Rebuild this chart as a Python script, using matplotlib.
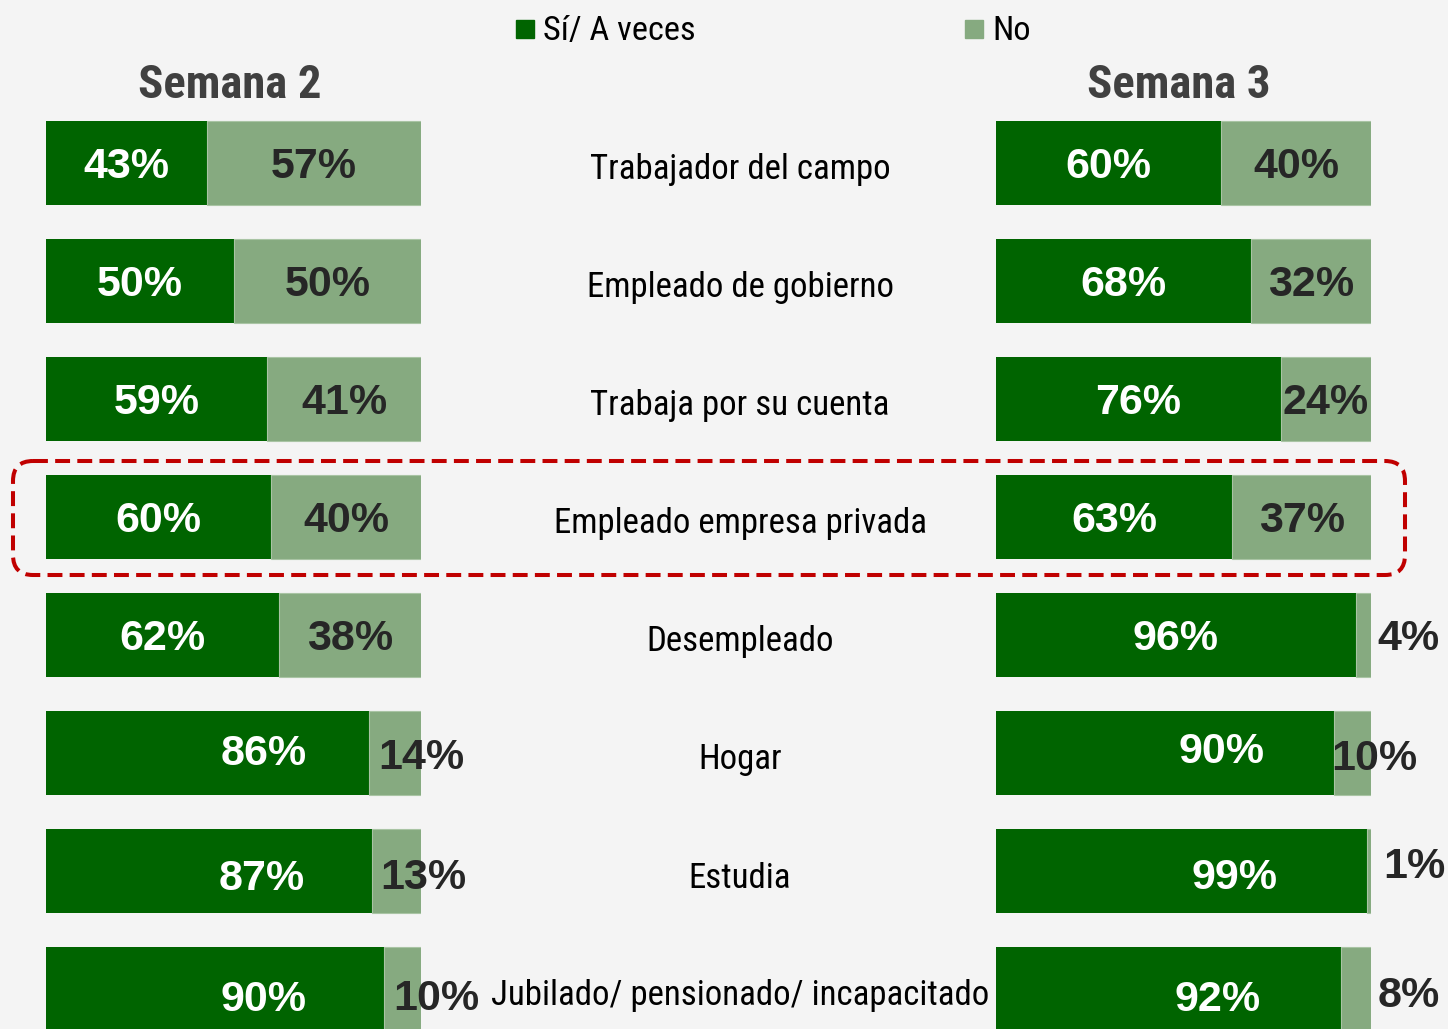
import matplotlib
matplotlib.use("Agg")
import matplotlib.pyplot as plt
from matplotlib import font_manager as fm
from matplotlib.patches import FancyBboxPatch, Rectangle

# ---------------- data ----------------
categories = ["Trabajador del campo", "Empleado de gobierno", "Trabaja por su cuenta",
              "Empleado empresa privada", "Desempleado", "Hogar", "Estudia",
              "Jubilado/ pensionado/ incapacitado"]
semana2_si = [43, 50, 59, 60, 62, 86, 87, 90]
semana2_no = [57, 50, 41, 40, 38, 14, 13, 10]
semana3_si = [60, 68, 76, 63, 96, 90, 99, 92]
semana3_no = [40, 32, 24, 37, 4, 10, 1, 8]
series_names = ["Sí/ A veces", "No"]
panel_titles = ["Semana 2", "Semana 3"]
highlight_index = 3

# label nudges (style: dx in % units, dy in px) for labels moved by hand in the original
s2_si_nudge = {5: (15, -3), 6: (14, 4), 7: (13, 7)}
s2_no_nudge = {5: (7, 1), 6: (7, 3), 7: (9, 6)}
s3_si_nudge = {5: (15, -5), 6: (14, 3), 7: (13, 7)}
s3_no_nudge = {4: (12, 0), 5: (6, 2), 6: (12, -8), 7: (14, 3)}

# ---------------- style ----------------
names = {f.name for f in fm.fontManager.ttflist}
NARROW = next((n for n in ["Liberation Sans Narrow", "Arial Narrow", "Roboto Condensed",
                           "Archivo Narrow", "PT Sans Narrow", "IBM Plex Sans Condensed"]
               if n in names), "DejaVu Sans")
BOLD = "Liberation Sans"
DARK = "#006400"
LIGHT = "#86AA80"
BG = "#F4F4F4"
W, H = 1448, 1029
ROW0, STEP, BAR_H = 163, 118, 84

fig = plt.figure(figsize=(W / 100, H / 100), dpi=100, facecolor=BG)
renderer = fig.canvas.get_renderer()

def fit_size(text, size, target_w, **kw):
    t = fig.text(0, 0, text, fontsize=size, **kw)
    w = t.get_window_extent(renderer).width
    t.remove()
    return size * target_w / w

def make_ax(x0, x1):
    ax = fig.add_axes([x0 / W, 0, (x1 - x0) / W, 1])
    ax.set_xlim(0, 100)
    ax.set_ylim((H - ROW0) / STEP, -ROW0 / STEP)
    ax.axis("off")
    ax.patch.set_visible(False)
    return ax

axL = make_ax(46, 421)
axR = make_ax(996, 1371)
rows = list(range(len(categories)))
px = 1.0 / STEP  # one pixel in row units

def draw_panel(ax, si, no, si_nudge, no_nudge):
    ax.barh(rows, si, height=BAR_H / STEP, color=DARK, edgecolor="none")
    ax.barh(rows, no, left=si, height=BAR_H / STEP, color=LIGHT,
            edgecolor="#A9C4A4", linewidth=0.8)
    for i in rows:
        dx, dy = si_nudge.get(i, (0, 0))
        ax.text(si[i] / 2 + dx, i + (4 + dy) * px, f"{si[i]}%", ha="center", va="center",
                color="white", fontsize=31, fontweight="bold", family=BOLD, clip_on=False)
        dx, dy = no_nudge.get(i, (0, 0))
        ax.text(si[i] + no[i] / 2 + dx, i + (4 + dy) * px, f"{no[i]}%", ha="center", va="center",
                color="#262626", fontsize=31, fontweight="bold", family=BOLD, clip_on=False)

draw_panel(axL, semana2_si, semana2_no, s2_si_nudge, s2_no_nudge)
draw_panel(axR, semana3_si, semana3_no, s3_si_nudge, s3_no_nudge)

# category labels in the middle column
cat_size = fit_size(categories[highlight_index], 25, 374, family=NARROW)
for i, c in enumerate(categories):
    axL.text((740 - 46) / 3.75, i + 7 * px, c, ha="center", va="center",
             fontsize=cat_size, family=NARROW, color="black", clip_on=False)

# overlay in pixel coordinates for titles, legend and highlight box
axO = fig.add_axes([0, 0, 1, 1])
axO.set_xlim(0, W)
axO.set_ylim(H, 0)
axO.axis("off")
axO.patch.set_visible(False)

title_size = fit_size(panel_titles[0], 34, 184, family=NARROW, fontweight="bold")
axO.text(230, 85, panel_titles[0], ha="center", va="center", fontsize=title_size,
         fontweight="bold", family=NARROW, color="#404040")
axO.text(1179, 85, panel_titles[1], ha="center", va="center", fontsize=title_size,
         fontweight="bold", family=NARROW, color="#404040")

leg_size = fit_size(series_names[0], 24, 153, family=NARROW)
for (x, col, lab) in [(516, DARK, series_names[0]), (965, LIGHT, series_names[1])]:
    axO.add_patch(Rectangle((x, 20), 18, 18, color=col))
    axO.text(x + 27, 31, lab, ha="left", va="center", fontsize=leg_size,
             family=NARROW, color="black")

yc = ROW0 + STEP * highlight_index
box = FancyBboxPatch((13, yc - 56), 1392, 114,
                     boxstyle="round,pad=0,rounding_size=20",
                     fill=False, edgecolor="#C00000", linewidth=2.9,
                     linestyle=(0, (3.7, 1.8)))
axO.add_patch(box)

fig.savefig("out.png", dpi=100, facecolor=BG)
